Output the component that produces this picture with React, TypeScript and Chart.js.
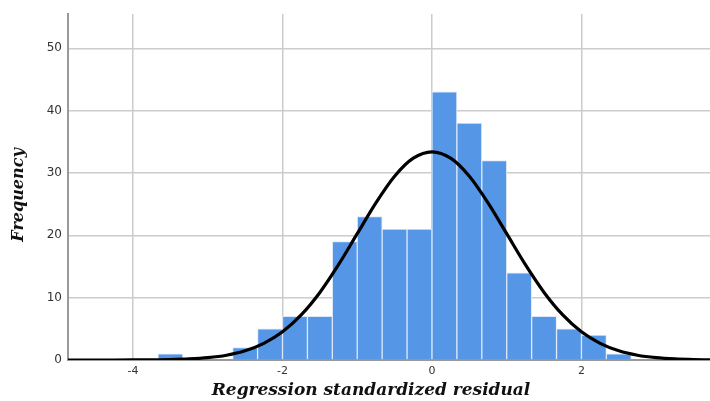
import React, { useEffect, useRef } from "react";
import { Chart, registerables } from "chart.js";
Chart.register(...registerables);

const binCenters = [-3.5, -3.1667, -2.8333, -2.5, -2.1667, -1.8333, -1.5, -1.1667, -0.8333, -0.5, -0.1667, 0.1667, 0.5, 0.8333, 1.1667, 1.5, 1.8333, 2.1667, 2.5];
const binCounts = [1, 0, 0, 2, 5, 7, 7, 19, 23, 21, 21, 43, 38, 32, 14, 7, 5, 4, 1];

const curveX = [-5, -4.75, -4.5, -4.25, -4, -3.75, -3.5, -3.25, -3, -2.75, -2.5, -2.25, -2, -1.75, -1.5, -1.25, -1, -0.75, -0.5, -0.25, 0, 0.25, 0.5, 0.75, 1, 1.25, 1.5, 1.75, 2, 2.25, 2.5, 2.75, 3, 3.25, 3.5, 3.75, 4];
const curveY = [0, 0, 0, 0, 0.01, 0.03, 0.07, 0.17, 0.37, 0.76, 1.47, 2.66, 4.52, 7.23, 10.84, 15.29, 20.26, 25.21, 29.48, 32.37, 33.4, 32.37, 29.48, 25.21, 20.26, 15.29, 10.84, 7.23, 4.52, 2.66, 1.47, 0.76, 0.37, 0.17, 0.07, 0.03, 0.01];

const xTicks = [-4, -2, 0, 2];
const yTicks = [0, 10, 20, 30, 40, 50];

const xTitle = "Regression standardized residual";
const yTitle = "Frequency";

const titlePlugin = {
  id: "axisTitles",
  afterDraw(chart: any) {
    const { ctx, chartArea } = chart;
    ctx.save();
    ctx.fillStyle = "#111111";
    ctx.textAlign = "center";
    ctx.textBaseline = "middle";
    ctx.font = "italic bold 17px 'DejaVu Serif'";
    ctx.fillText(xTitle, (chartArea.left + chartArea.right) / 2 - 18, 391);
    ctx.translate(19, (chartArea.top + chartArea.bottom) / 2 + 8);
    ctx.rotate(-Math.PI / 2);
    ctx.font = "italic bold 16px 'DejaVu Serif'";
    ctx.fillText(yTitle, 0, 0);
    ctx.restore();
  },
};

export default function App() {
  const ref = useRef<HTMLCanvasElement>(null);
  useEffect(() => {
    document.body.style.margin = "0";
    const chart = new Chart(ref.current!, {
      type: "bar",
      data: {
        datasets: [
          {
            type: "line",
            data: curveX.map((x, i) => ({ x, y: curveY[i] })),
            borderColor: "#000000",
            borderWidth: 3.2,
            pointRadius: 0,
            cubicInterpolationMode: "monotone",
            order: 0,
          } as any,
          {
            type: "bar",
            data: binCenters.map((x, i) => ({ x, y: binCounts[i] })),
            backgroundColor: "#5596E6",
            borderColor: "#DCE8F8",
            borderWidth: 1,
            barPercentage: 1,
            categoryPercentage: 1,
            order: 1,
          } as any,
        ],
      },
      options: {
        animation: false,
        responsive: false,
        maintainAspectRatio: false,
        layout: { padding: { top: 14, right: 0, left: 0, bottom: 0 } },
        plugins: { legend: { display: false }, tooltip: { enabled: false } },
        scales: {
          x: {
            type: "linear",
            min: -4.87,
            max: 3.72,
            offset: false,
            afterBuildTicks: (s: any) => {
              s.ticks = xTicks.map((v) => ({ value: v }));
            },
            afterFit: (s: any) => {
              s.height = 41;
            },
            ticks: { font: { family: "DejaVu Sans", size: 11 }, color: "#333333", padding: 5, autoSkip: false, maxRotation: 0 },
            grid: { color: "#cccccc", lineWidth: 1.5, drawTicks: false, offset: false },
            border: { color: "#999999", width: 2 },
          },
          y: {
            type: "linear",
            min: 0,
            max: 55.5,
            afterBuildTicks: (s: any) => {
              s.ticks = yTicks.map((v) => ({ value: v }));
            },
            afterFit: (s: any) => {
              s.width = 68;
            },
            ticks: { font: { family: "DejaVu Sans", size: 12 }, color: "#333333", padding: 6 },
            grid: { color: "#cccccc", lineWidth: 1.5, drawTicks: false },
            border: { color: "#999999", width: 2 },
          },
        },
      },
      plugins: [titlePlugin],
    });
    return () => chart.destroy();
  }, []);
  return (
    <div style={{ width: 710, height: 401 }}>
      <canvas ref={ref} width={710} height={401} />
    </div>
  );
}
